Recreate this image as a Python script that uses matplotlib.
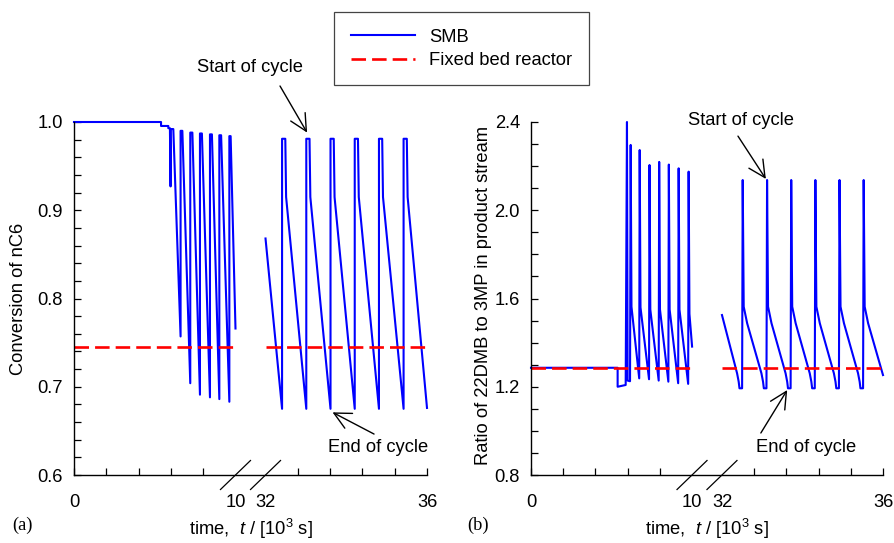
import numpy as np
import matplotlib
matplotlib.use("Agg")
import matplotlib.pyplot as plt

plt.rcParams["font.family"] = ["Liberation Sans", "DejaVu Sans"]
plt.rcParams["font.size"] = 13.2
plt.rcParams["mathtext.fontset"] = "custom"
plt.rcParams["mathtext.rm"] = "Liberation Sans"
plt.rcParams["mathtext.it"] = "Liberation Sans:italic"

# ---- data (t in 10^3 s) ----
# (a) conversion of nC6, SMB, start-up window
conv_t_early = [0, 5.39, 5.39, 5.84, 5.84, 5.94, 5.98, 6.00, 6.15, 6.60, 6.60, 6.71,
                7.20, 7.20, 7.33, 7.80, 7.80, 7.92, 8.42, 8.42, 8.54, 9.00, 9.00, 9.11,
                9.62, 9.62, 9.70, 10.0]
conv_early = [1.0, 1.0, 0.9955, 0.9955, 0.993, 0.993, 0.927, 0.992, 0.992, 0.757, 0.990, 0.990,
              0.704, 0.988, 0.988, 0.691, 0.987, 0.987, 0.688, 0.986, 0.986, 0.686, 0.985, 0.985,
              0.683, 0.984, 0.984, 0.766]
# (a) cyclic steady state window
conv_t_late = [32.0, 32.41, 32.41, 32.49, 32.51, 33.01, 33.01, 33.09, 33.11, 33.61, 33.61, 33.69,
               33.71, 34.21, 34.21, 34.29, 34.31, 34.81, 34.81, 34.89, 34.91, 35.42, 35.42, 35.50,
               35.52, 36.0]
conv_late = [0.868, 0.675, 0.981, 0.981, 0.915, 0.675, 0.981, 0.981, 0.915, 0.675, 0.981, 0.981,
             0.915, 0.675, 0.981, 0.981, 0.915, 0.675, 0.981, 0.981, 0.915, 0.675, 0.981, 0.981,
             0.915, 0.676]
conv_fixed_bed = 0.745

# (b) ratio 22DMB / 3MP in product stream
ratio_t_early = [0, 5.38, 5.38, 5.88, 5.96, 6.00, 6.15, 6.19, 6.24, 6.72, 6.75, 6.80,
                 7.33, 7.36, 7.41, 7.93, 7.96, 8.01, 8.53, 8.56, 8.61, 9.14, 9.17, 9.22,
                 9.76, 9.79, 9.84, 10.05]
ratio_early = [1.286, 1.286, 1.200, 1.208, 2.400, 1.228, 1.225, 2.296, 1.563, 1.238, 2.273, 1.560,
               1.234, 2.205, 1.550, 1.228, 2.219, 1.550, 1.223, 2.207, 1.550, 1.216, 2.190, 1.550,
               1.213, 2.175, 1.530, 1.382]
ratio_t_late = [32.0,
                32.375, 32.415, 32.435, 32.50, 32.515, 32.54, 32.625,
                32.98, 33.02, 33.04, 33.105, 33.12, 33.145, 33.23,
                33.58, 33.62, 33.64, 33.705, 33.72, 33.745, 33.83,
                34.18, 34.22, 34.24, 34.305, 34.32, 34.345, 34.43,
                34.78, 34.82, 34.84, 34.905, 34.92, 34.945, 35.03,
                35.38, 35.42, 35.44, 35.505, 35.52, 35.545, 35.63,
                36.0]
ratio_late = [1.525,
              1.261, 1.223, 1.193, 1.193, 2.137, 1.563, 1.488,
              1.261, 1.223, 1.193, 1.193, 2.137, 1.563, 1.488,
              1.261, 1.223, 1.193, 1.193, 2.137, 1.563, 1.488,
              1.261, 1.223, 1.193, 1.193, 2.137, 1.563, 1.488,
              1.261, 1.223, 1.193, 1.193, 2.137, 1.563, 1.488,
              1.261, 1.223, 1.193, 1.193, 2.137, 1.563, 1.488,
              1.253]
ratio_fixed_bed = 1.284

windows = [(0, 10), (32, 36)]
xtick_major = [0, 10, 32, 36]
xtick_minor = [2, 4, 6, 8, 32.8, 33.6, 34.4, 35.2]

# broken time axis: 0-10 as is, 32-36 stretched 2.5x, the gap squeezed
U32 = 11.86
K2 = 2.5


def fwd(t):
    t = np.asarray(t, float)
    return np.where(t <= 10, t,
                    np.where(t >= 32, U32 + (t - 32) * K2, 10 + (t - 10) * (U32 - 10) / 22))


def inv(u):
    u = np.asarray(u, float)
    return np.where(u <= 10, u,
                    np.where(u >= U32, 32 + (u - U32) / K2, 10 + (u - 10) * 22 / (U32 - 10)))


W, H = 895, 543
fig = plt.figure(figsize=(W / 100, H / 100), dpi=100)
ax_a = fig.add_axes([74 / W, 68 / H, 353 / W, 353 / H])
ax_b = fig.add_axes([531 / W, 68 / H, 352 / W, 353 / H])

BLUE = "#0000ff"
RED = "#ff0000"


def setup(ax, ylim, major, minor, ylabel, ylab_x, ylab_y, tag, tag_x):
    ax.set_xscale("function", functions=(fwd, inv))
    ax.set_xlim(0, 36)
    ax.set_ylim(*ylim)
    for s in ("top", "right"):
        ax.spines[s].set_visible(False)
    for s in ("left", "bottom"):
        ax.spines[s].set_linewidth(1.0)
    ax.set_xticks(xtick_major)
    ax.set_xticklabels(["0", "10", "32", "36"])
    ax.set_xticks(xtick_minor, minor=True)
    ax.set_yticks(major)
    ax.set_yticks(minor, minor=True)
    ax.tick_params(which="both", direction="in", length=5, width=0.9)
    ax.tick_params(axis="x", pad=14)
    ax.tick_params(axis="y", pad=8)
    ticks = ax.xaxis.get_major_ticks()
    ticks[1].tick1line.set_visible(False)
    ticks[2].tick1line.set_visible(False)
    ax.set_ylabel(ylabel)
    ax.yaxis.set_label_coords(ylab_x, ylab_y)
    ax.set_xlabel(r"time,  $t$ / [10$^{3}$ s]")
    ax.xaxis.set_label_coords(0.5, -0.119)
    # axis break slashes
    wpx = ax.get_position().width * W
    for tb in (10, 32):
        f = float(fwd(tb) / fwd(36))
        ax.plot([f - 15 / wpx, f + 15 / wpx], [-14.5 / 353, 14.5 / 353],
                transform=ax.transAxes, color="k", lw=0.9, clip_on=False)
    fig.text(tag_x / W, 1 - 525 / H, tag, family="Liberation Serif", va="center")


setup(ax_a, (0.6, 1.0), [0.6, 0.7, 0.8, 0.9, 1.0], np.arange(0.62, 1.0, 0.02),
      "Conversion of nC6", -0.133, 0.5, "(a)", 12)
setup(ax_b, (0.8, 2.4), [0.8, 1.2, 1.6, 2.0, 2.4], np.arange(0.9, 2.4, 0.1),
      "Ratio of 22DMB to 3MP in product stream", -0.111, 0.51, "(b)", 467)

smb_kw = dict(color=BLUE, lw=1.5, clip_on=False)
fb_kw = dict(color=RED, lw=1.9, dashes=(5.5, 2.3))

smb_line, = ax_a.plot(conv_t_early, conv_early, **smb_kw)
ax_a.plot(conv_t_late, conv_late, **smb_kw)
ax_b.plot(ratio_t_early, ratio_early, **smb_kw)
ax_b.plot(ratio_t_late, ratio_late, **smb_kw)
for lo, hi in windows:
    fb_line, = ax_a.plot([lo, hi], [conv_fixed_bed, conv_fixed_bed], **fb_kw)
    ax_b.plot([lo, hi], [ratio_fixed_bed, ratio_fixed_bed], **fb_kw)

arrow = dict(arrowstyle="->,head_length=0.6,head_width=0.3", color="k", lw=1.0,
             shrinkA=0, shrinkB=0, mutation_scale=20)

# (a) annotations
ax_a.text(0.4986, 1.153, "Start of cycle", transform=ax_a.transAxes, ha="center", va="center")
ax_a.annotate("", xy=(33.03, 0.988), xytext=(0.5836, 1.102), textcoords="axes fraction",
              arrowprops=arrow, annotation_clip=False)
ax_a.text(0.861, 0.0793, "End of cycle", transform=ax_a.transAxes, ha="center", va="center")
ax_a.annotate("", xy=(33.66, 0.671), xytext=(0.850, 0.116), textcoords="axes fraction",
              arrowprops=arrow)

# (b) annotations
ax_b.text(0.5966, 1.003, "Start of cycle", transform=ax_b.transAxes, ha="center", va="center")
ax_b.annotate("", xy=(33.09, 2.142), xytext=(0.588, 0.960), textcoords="axes fraction",
              arrowprops=arrow)
ax_b.text(0.781, 0.0793, "End of cycle", transform=ax_b.transAxes, ha="center", va="center")
ax_b.annotate("", xy=(33.62, 1.185), xytext=(0.653, 0.119), textcoords="axes fraction",
              arrowprops=arrow)

leg = fig.legend([smb_line, fb_line], ["SMB", "Fixed bed reactor"], loc="upper center",
                 bbox_to_anchor=(461.5 / W, 1 - 12 / H), bbox_transform=fig.transFigure,
                 fancybox=False, framealpha=1, edgecolor="#444444", handlelength=3.5,
                 handletextpad=0.8, borderpad=0.9, labelspacing=0.35, borderaxespad=0)
leg.get_frame().set_linewidth(0.9)

fig.savefig("out.png", dpi=100)
